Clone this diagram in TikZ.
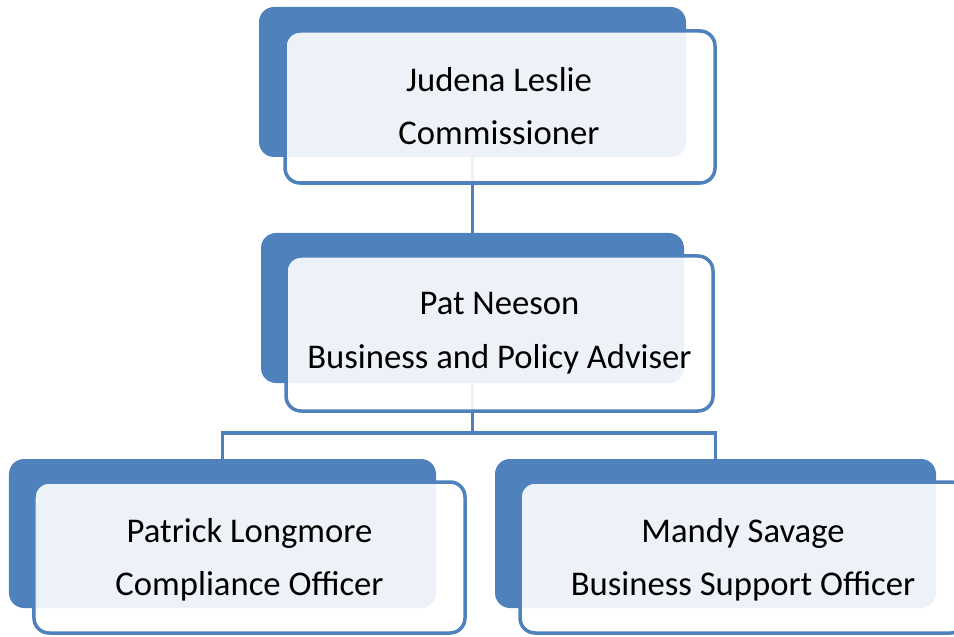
\documentclass[tikz,border=0pt]{standalone}
\usepackage{fontspec}
\setmainfont{Carlito}
\definecolor{ablue}{HTML}{4F81BD}
\pgfdeclarelayer{bg}
\pgfsetlayers{bg,main}
\begin{document}
\begin{tikzpicture}[x=1bp,y=-1bp,
  backbox/.style={fill=ablue, rounded corners=15bp, inner sep=0pt, draw=none},
  frontbox/.style={draw=ablue, line width=3.5bp, fill=white, fill opacity=0.9, rounded corners=15bp, inner sep=0pt},
  conn/.style={draw=ablue, line width=3.2bp},
  lbl/.style={align=center, anchor=base, font=\fontsize{34.8}{53.2}\selectfont, text=black, inner sep=0pt}]
\useasboundingbox (0,0) rectangle (954,637);
% back boxes
\node[backbox, minimum width=427bp, minimum height=150bp] (topB) at (472.5,82) {};
\node[backbox, minimum width=423bp, minimum height=150bp] (midB) at (472.5,308) {};
\node[backbox, minimum width=427bp, minimum height=149bp] (blB) at (222.5,533.5) {};
\node[backbox, minimum width=441bp, minimum height=149bp] (brB) at (715.5,533.5) {};
% connectors
\coordinate (bus) at (472.5,433);
\begin{pgfonlayer}{bg}
\draw[conn] (topB.center) -- (midB.center);
\draw[conn] (midB.center) -- (bus) -| (blB.center);
\draw[conn] (bus) -| (brB.center);
\end{pgfonlayer}
% front boxes
\node[frontbox, minimum width=430bp, minimum height=152bp] (topF) at (500,107) {};
\node[frontbox, minimum width=427bp, minimum height=155bp] (midF) at (499.5,333.5) {};
\node[frontbox, minimum width=431bp, minimum height=151bp] (blF) at (249.5,557.5) {};
\node[frontbox, minimum width=446bp, minimum height=151bp] (brF) at (743,557.5) {};
% labels (anchor base = baseline of the last line)
\node[lbl] (topL) at (499,145) {Judena Leslie\\Commissioner};
\node[lbl] (midL) at (499.5,368) {Pat Neeson\\Business and Policy Adviser};
\node[lbl] (blL) at (249.5,595) {Patrick Longmore\\Compliance Officer};
\node[lbl] (brL) at (743,595) {Mandy Savage\\Business Support Officer};
\end{tikzpicture}
\end{document}
